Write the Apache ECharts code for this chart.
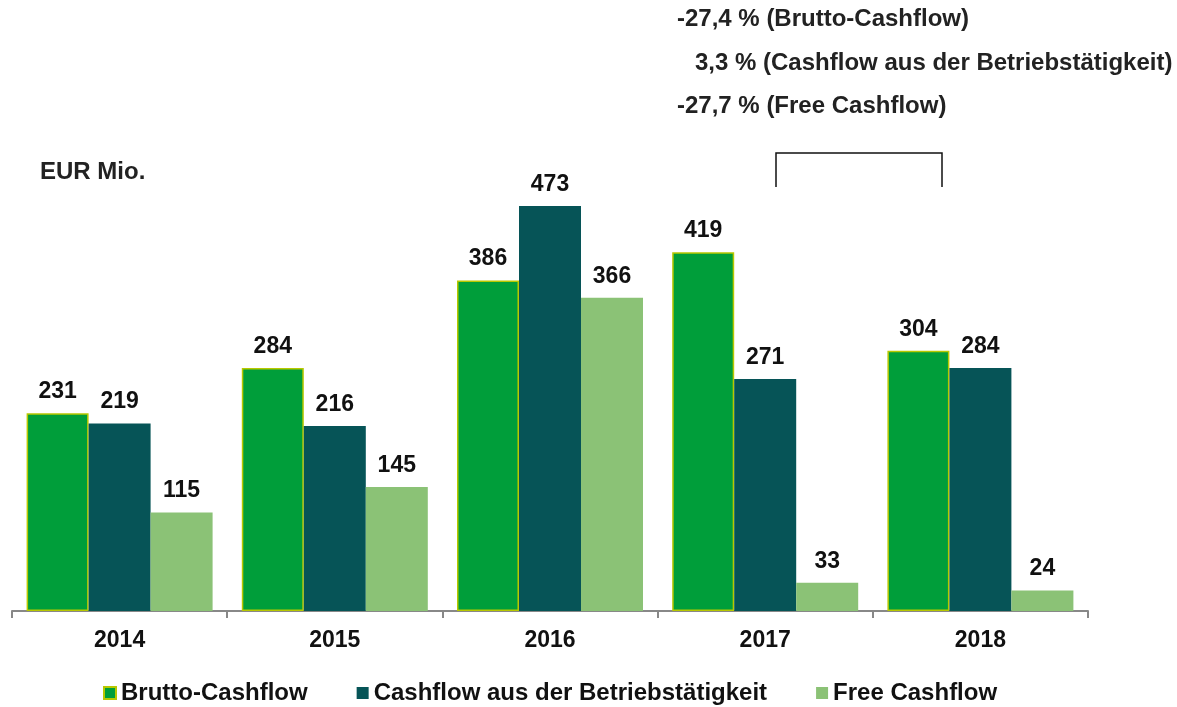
<!DOCTYPE html>
<html>
<head>
<meta charset="utf-8">
<script src="https://cdn.jsdelivr.net/npm/echarts@6/dist/echarts.min.js"></script>
<style>
  html, body { margin: 0; padding: 0; background: #fff; }
  #main { width: 1177px; height: 707px; }
</style>
</head>
<body>
<div id="main"></div>
<script>
// 初始化图表
var myChart = echarts.init(document.getElementById('main'));

var years = ['2014', '2015', '2016', '2017', '2018'];
var brutto = [231, 284, 386, 419, 304];
var betrieb = [219, 216, 473, 271, 284];
var free = [115, 145, 366, 33, 24];
var notes = ['-27,4 % (Brutto-Cashflow)', '3,3 % (Cashflow aus der Betriebstätigkeit)', '-27,7 % (Free Cashflow)'];

var font = '"Liberation Sans", Arial, sans-serif';
var labelStyle = {
	show: true,
	position: 'top',
	distance: 10,
	color: '#111',
	fontSize: 23,
	fontWeight: 'bold',
	fontFamily: font
};

function makeSeries(name, values, color, border) {
	return {
		name: name,
		type: 'bar',
		data: values,
		barWidth: 62,
		barGap: '0%',
		itemStyle: {
			color: color,
			borderColor: border || color,
			borderWidth: border ? 1.5 : 0
		},
		label: labelStyle
	};
}

var option = {
	backgroundColor: '#fff',
	animation: false,
	grid: { left: 12, right: 89, top: 183, bottom: 96 },
	legend: {
		top: 676,
		left: 98,
		itemWidth: 12,
		itemHeight: 12,
		itemGap: 49,
		icon: 'rect',
		textStyle: { color: '#111', fontSize: 24, fontWeight: 'bold', fontFamily: font },
		data: ['Brutto-Cashflow', 'Cashflow aus der Betriebstätigkeit', 'Free Cashflow']
	},
	xAxis: {
		type: 'category',
		data: years,
		axisLine: { lineStyle: { color: '#888', width: 2 } },
		axisTick: { show: true, length: 7, lineStyle: { color: '#888', width: 2 } },
		axisLabel: { color: '#111', fontSize: 23, fontWeight: 'bold', fontFamily: font, margin: 18 }
	},
	yAxis: {
		type: 'value',
		min: 0,
		max: 500,
		show: false,
		splitLine: { show: false }
	},
	graphic: [
		{ type: 'text', left: 40, top: 160, style: { text: 'EUR Mio.', fill: '#222', font: 'bold 24px ' + font } },
		{ type: 'text', left: 677, top: 7, style: { text: notes[0], fill: '#222', font: 'bold 24px ' + font } },
		{ type: 'text', left: 695, top: 51, style: { text: notes[1], fill: '#222', font: 'bold 24px ' + font } },
		{ type: 'text', left: 677, top: 94, style: { text: notes[2], fill: '#222', font: 'bold 24px ' + font } },
		{
			type: 'polyline',
			shape: { points: [[776, 187], [776, 153], [942, 153], [942, 187]] },
			style: { stroke: '#111', lineWidth: 1.5, fill: null }
		}
	],
	series: [
		makeSeries('Brutto-Cashflow', brutto, '#009e3a', '#b8c800'),
		makeSeries('Cashflow aus der Betriebstätigkeit', betrieb, '#065457'),
		makeSeries('Free Cashflow', free, '#8bc276')
	]
};

myChart.setOption(option);
</script>
</body>
</html>
